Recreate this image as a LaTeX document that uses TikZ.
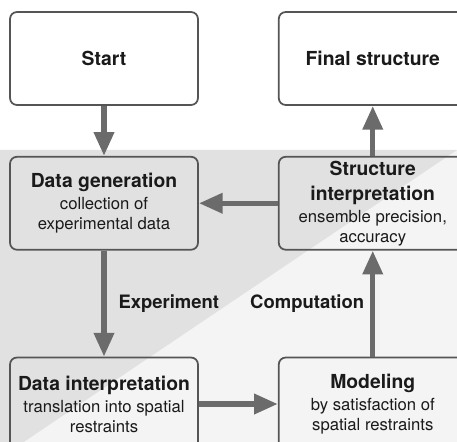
\documentclass[tikz,border=0pt]{standalone}
\usepackage{fontspec}
\setmainfont{TeX Gyre Heros}
\usetikzlibrary{arrows.meta,positioning}

\definecolor{bandgray}{HTML}{E1E1E1}
\definecolor{palegray}{HTML}{F4F4F4}
\definecolor{edgegray}{HTML}{555555}
\definecolor{flowgray}{HTML}{6B6B6B}
\definecolor{inkgray}{HTML}{1A1A1A}
\newcommand{\stagetitle}[1]{{\bfseries\fontsize{11}{11.4}\selectfont #1}}

\begin{document}
\begin{tikzpicture}[
            node distance=1.0cm and 1.58cm,
            stage/.style={rectangle, rounded corners=4pt, draw=edgegray, line width=1pt, text=inkgray, align=center, minimum width=3.76cm, minimum height=1.86cm, inner sep=2pt, font=\fontsize{9.5}{11.4}\selectfont},
            flow/.style={-{Triangle[length=13.5pt, width=11pt]}, line width=3.1pt, draw=flowgray},
            phase/.style={text=inkgray, font=\bfseries\fontsize{10.5}{12}\selectfont}
        ]
            % Background
            \clip (0,0) rectangle (9.14,-8.84);
            \fill[white] (0,0) rectangle (9.14,-8.84);
            \fill[palegray] (0,-3.0) rectangle (9.14,-8.84);
            \fill[bandgray] (0,-3.0) -- (9.14,-3.0) -- (0,-9.16) -- cycle;

            % Stages
            \node[stage] (start) at (2.08,-1.17) {\stagetitle{Start}};
            \node[stage, right=of start] (final) {\stagetitle{Final structure}};
            \node[stage, below=of start] (datagen) {\stagetitle{Data generation}\\[1.1pt]collection of\\experimental data};
            \node[stage, below=of final] (structint) {\stagetitle{Structure}\\[2.8pt]\stagetitle{interpretation}\\[1.1pt]ensemble precision,\\accuracy};
            \node[stage, below=2.12cm of datagen] (dataint) {\stagetitle{Data interpretation}\\[1.1pt]translation into spatial\\restraints};
            \node[stage, right=of dataint] (modeling) {\stagetitle{Modeling}\\[1.1pt]by satisfaction of\\spatial restraints};

            % Arrows
            \draw[flow] (start) -- (datagen);
            \draw[flow] (datagen) -- node[phase, right=0.12cm] {Experiment} (dataint);
            \draw[flow] (dataint) -- (modeling);
            \draw[flow] (modeling) -- node[phase, left=0pt] {Computation} (structint);
            \draw[flow] (structint) -- (datagen);
            \draw[flow] (structint) -- (final);
        \end{tikzpicture}
\end{document}
